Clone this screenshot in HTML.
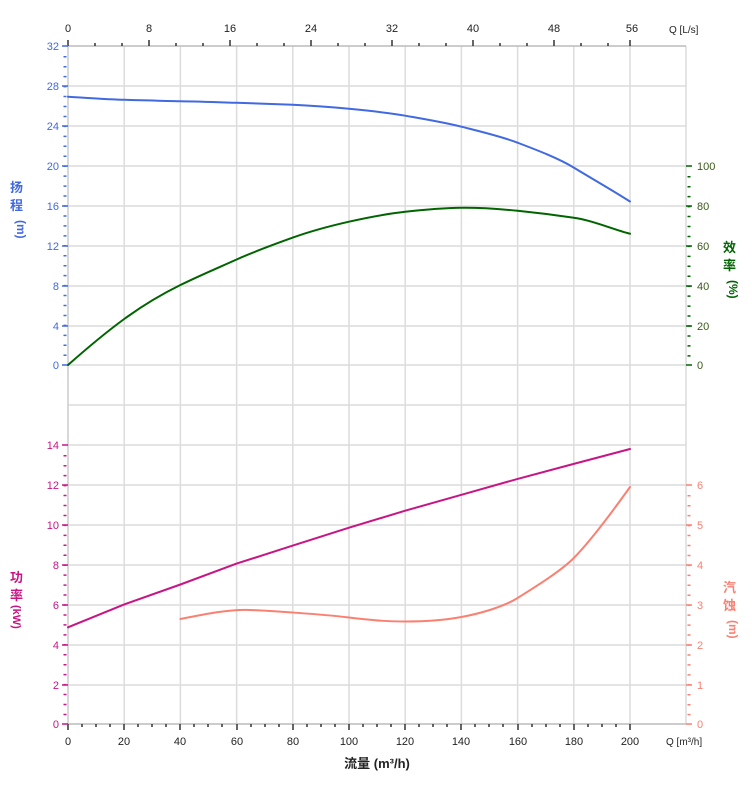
<!DOCTYPE html>
<html><head><meta charset="utf-8"><style>
body{margin:0;background:#fff;}
svg{display:block;font-family:"Liberation Sans","Noto Sans CJK SC",sans-serif;}
</style></head><body>
<svg width="752" height="797" viewBox="0 0 752 797" xmlns="http://www.w3.org/2000/svg">
<g stroke="#dcdcdc" stroke-width="1.5">
<line x1="124.2" y1="46" x2="124.2" y2="724"/><line x1="180.4" y1="46" x2="180.4" y2="724"/>
<line x1="236.6" y1="46" x2="236.6" y2="724"/><line x1="292.8" y1="46" x2="292.8" y2="724"/>
<line x1="349" y1="46" x2="349" y2="724"/><line x1="405.2" y1="46" x2="405.2" y2="724"/>
<line x1="461.4" y1="46" x2="461.4" y2="724"/><line x1="517.6" y1="46" x2="517.6" y2="724"/>
<line x1="573.8" y1="46" x2="573.8" y2="724"/><line x1="630" y1="46" x2="630" y2="724"/>
<line x1="686" y1="46" x2="686" y2="724"/>
<line x1="68" y1="86" x2="686" y2="86"/><line x1="68" y1="126" x2="686" y2="126"/>
<line x1="68" y1="166" x2="686" y2="166"/><line x1="68" y1="206" x2="686" y2="206"/>
<line x1="68" y1="246" x2="686" y2="246"/><line x1="68" y1="286" x2="686" y2="286"/>
<line x1="68" y1="326" x2="686" y2="326"/><line x1="68" y1="365" x2="686" y2="365"/>
<line x1="68" y1="405" x2="686" y2="405"/><line x1="68" y1="445" x2="686" y2="445"/>
<line x1="68" y1="485" x2="686" y2="485"/><line x1="68" y1="525" x2="686" y2="525"/>
<line x1="68" y1="565" x2="686" y2="565"/><line x1="68" y1="605" x2="686" y2="605"/>
<line x1="68" y1="645" x2="686" y2="645"/><line x1="68" y1="685" x2="686" y2="685"/>
</g>
<!-- axes -->
<line x1="68" y1="46" x2="686" y2="46" stroke="#bbb" stroke-width="1.5"/>
<line x1="68" y1="724" x2="686" y2="724" stroke="#bbb" stroke-width="1.5"/>
<line x1="68" y1="46" x2="68" y2="724" stroke="#ccc" stroke-width="1.5"/>
<g stroke="#333" stroke-width="1.5">
<line x1="68" y1="46" x2="68" y2="40"/><line x1="95" y1="46" x2="95" y2="43"/><line x1="122" y1="46" x2="122" y2="43"/>
<line x1="149" y1="46" x2="149" y2="40"/><line x1="176" y1="46" x2="176" y2="43"/><line x1="203" y1="46" x2="203" y2="43"/>
<line x1="230" y1="46" x2="230" y2="40"/><line x1="257" y1="46" x2="257" y2="43"/><line x1="284" y1="46" x2="284" y2="43"/>
<line x1="311" y1="46" x2="311" y2="40"/><line x1="338" y1="46" x2="338" y2="43"/><line x1="365" y1="46" x2="365" y2="43"/>
<line x1="392" y1="46" x2="392" y2="40"/><line x1="419" y1="46" x2="419" y2="43"/><line x1="446" y1="46" x2="446" y2="43"/>
<line x1="473" y1="46" x2="473" y2="40"/><line x1="500" y1="46" x2="500" y2="43"/><line x1="527" y1="46" x2="527" y2="43"/>
<line x1="554" y1="46" x2="554" y2="40"/><line x1="581" y1="46" x2="581" y2="43"/><line x1="608" y1="46" x2="608" y2="43"/>
<line x1="630" y1="46" x2="630" y2="40"/>
</g>
<g stroke="#333" stroke-width="1.5">
<line x1="68" y1="724" x2="68" y2="730"/><line x1="82" y1="724" x2="82" y2="727"/><line x1="96" y1="724" x2="96" y2="727"/><line x1="110" y1="724" x2="110" y2="727"/>
<line x1="124" y1="724" x2="124" y2="730"/><line x1="138" y1="724" x2="138" y2="727"/><line x1="152" y1="724" x2="152" y2="727"/><line x1="166" y1="724" x2="166" y2="727"/>
<line x1="180" y1="724" x2="180" y2="730"/><line x1="194" y1="724" x2="194" y2="727"/><line x1="208" y1="724" x2="208" y2="727"/><line x1="222" y1="724" x2="222" y2="727"/>
<line x1="237" y1="724" x2="237" y2="730"/><line x1="251" y1="724" x2="251" y2="727"/><line x1="265" y1="724" x2="265" y2="727"/><line x1="279" y1="724" x2="279" y2="727"/>
<line x1="293" y1="724" x2="293" y2="730"/><line x1="307" y1="724" x2="307" y2="727"/><line x1="321" y1="724" x2="321" y2="727"/><line x1="335" y1="724" x2="335" y2="727"/>
<line x1="349" y1="724" x2="349" y2="730"/><line x1="363" y1="724" x2="363" y2="727"/><line x1="377" y1="724" x2="377" y2="727"/><line x1="391" y1="724" x2="391" y2="727"/>
<line x1="405" y1="724" x2="405" y2="730"/><line x1="419" y1="724" x2="419" y2="727"/><line x1="433" y1="724" x2="433" y2="727"/><line x1="447" y1="724" x2="447" y2="727"/>
<line x1="461" y1="724" x2="461" y2="730"/><line x1="475" y1="724" x2="475" y2="727"/><line x1="489" y1="724" x2="489" y2="727"/><line x1="503" y1="724" x2="503" y2="727"/>
<line x1="518" y1="724" x2="518" y2="730"/><line x1="532" y1="724" x2="532" y2="727"/><line x1="546" y1="724" x2="546" y2="727"/><line x1="560" y1="724" x2="560" y2="727"/>
<line x1="574" y1="724" x2="574" y2="730"/><line x1="588" y1="724" x2="588" y2="727"/><line x1="602" y1="724" x2="602" y2="727"/><line x1="616" y1="724" x2="616" y2="727"/>
<line x1="630" y1="724" x2="630" y2="730"/>
</g>
<!-- left head ticks -->
<g stroke="#4169e1" stroke-width="1.5">
<line x1="62" y1="46" x2="68" y2="46"/><line x1="62" y1="86" x2="68" y2="86"/><line x1="62" y1="126" x2="68" y2="126"/><line x1="62" y1="166" x2="68" y2="166"/>
<line x1="62" y1="206" x2="68" y2="206"/><line x1="62" y1="246" x2="68" y2="246"/><line x1="62" y1="286" x2="68" y2="286"/><line x1="62" y1="326" x2="68" y2="326"/><line x1="62" y1="365" x2="68" y2="365"/>
</g>
<g stroke="#4169e1" stroke-width="1" stroke-dasharray="3 7">
<line x1="65" y1="56" x2="65" y2="365" stroke-dasharray="1.5 8.45" stroke-width="3"/>
</g>
<g stroke="#c71585" stroke-width="1.5">
<line x1="62" y1="445" x2="68" y2="445"/><line x1="62" y1="485" x2="68" y2="485"/><line x1="62" y1="525" x2="68" y2="525"/><line x1="62" y1="565" x2="68" y2="565"/>
<line x1="62" y1="605" x2="68" y2="605"/><line x1="62" y1="645" x2="68" y2="645"/><line x1="62" y1="685" x2="68" y2="685"/><line x1="62" y1="724" x2="68" y2="724"/>
</g>
<line x1="65" y1="455" x2="65" y2="724" stroke="#c71585" stroke-dasharray="1.5 8.45" stroke-width="3"/>
<g stroke="#006400" stroke-width="1.5">
<line x1="686" y1="166" x2="692" y2="166"/><line x1="686" y1="206" x2="692" y2="206"/><line x1="686" y1="246" x2="692" y2="246"/>
<line x1="686" y1="286" x2="692" y2="286"/><line x1="686" y1="326" x2="692" y2="326"/><line x1="686" y1="365" x2="692" y2="365"/>
</g>
<line x1="689" y1="176" x2="689" y2="365" stroke="#006400" stroke-dasharray="1.5 8.45" stroke-width="3"/>
<g stroke="#fa8072" stroke-width="1.5">
<line x1="686" y1="485" x2="692" y2="485"/><line x1="686" y1="525" x2="692" y2="525"/><line x1="686" y1="565" x2="692" y2="565"/>
<line x1="686" y1="605" x2="692" y2="605"/><line x1="686" y1="645" x2="692" y2="645"/><line x1="686" y1="685" x2="692" y2="685"/><line x1="686" y1="724" x2="692" y2="724"/>
</g>
<line x1="689" y1="495" x2="689" y2="724" stroke="#fa8072" stroke-dasharray="1.5 8.45" stroke-width="3"/>
<!-- curves -->
<g fill="none" stroke-width="2" stroke-linejoin="round" stroke-linecap="round">
<path stroke="#4169e1" d="M68,96.8 C96,98.5 110,99.6 124.2,99.8 S160,101 180.4,101.3 S220,102.3 236.6,102.8 S275,104 292.8,104.8 S330,107 349,108.8 S390,113 405.2,115.7 S445,122.5 461.4,126.7 S500,136 517.6,142.7 S558,158 573.8,167.6 S612,190 630,201.5"/>
<path stroke="#006400" d="M68,365 C85,350 105,333 124.2,319 S160,295 180.4,285 S220,267 236.6,259.5 S275,244 292.8,237.6 S330,226 349,221.7 S390,213.5 405.2,211.8 S445,208 461.4,207.8 S500,209 517.6,210.8 S555,215 573.8,217.7 S612,229 630,233.7"/>
<path stroke="#c71585" d="M68,627.3 L124.2,604.4 L180.4,584.5 L236.6,563.6 L292.8,545.6 L349,527.7 L405.2,510.7 L461.4,494.8 L517.6,478.9 L573.8,463.9 L630,449"/>
<path stroke="#fa8072" d="M180.4,619 C205,614 230,609 250.7,610 S320,614 349,617.5 S390,621.5 405.2,621.5 S440,621 461.4,617 S505,606 517.6,598 S560,572 573.8,558 S610,515 630,487"/>
</g>
<!-- labels -->
<g font-size="11" fill="#4169e1" text-anchor="end">
<text x="59" y="50">32</text><text x="59" y="90">28</text><text x="59" y="130">24</text><text x="59" y="170">20</text>
<text x="59" y="210">16</text><text x="59" y="250">12</text><text x="59" y="290">8</text><text x="59" y="330">4</text><text x="59" y="369">0</text>
</g>
<g font-size="11" fill="#c71585" text-anchor="end">
<text x="59" y="449">14</text><text x="59" y="489">12</text><text x="59" y="529">10</text><text x="59" y="569">8</text>
<text x="59" y="609">6</text><text x="59" y="649">4</text><text x="59" y="689">2</text><text x="59" y="728">0</text>
</g>
<g font-size="11" fill="#3a5a1a">
<text x="697" y="170">100</text><text x="697" y="210">80</text><text x="697" y="250">60</text><text x="697" y="290">40</text><text x="697" y="330">20</text><text x="697" y="369">0</text>
</g>
<g font-size="11" fill="#fa8072">
<text x="697" y="489">6</text><text x="697" y="529">5</text><text x="697" y="569">4</text><text x="697" y="609">3</text><text x="697" y="649">2</text><text x="697" y="689">1</text><text x="697" y="728">0</text>
</g>
<g font-size="11" fill="#222" text-anchor="middle">
<text x="68" y="32">0</text><text x="149" y="32">8</text><text x="230" y="32">16</text><text x="311" y="32">24</text>
<text x="392" y="32">32</text><text x="473" y="32">40</text><text x="554" y="32">48</text><text x="632" y="32">56</text>
<text x="68" y="745">0</text><text x="124" y="745">20</text><text x="180" y="745">40</text><text x="237" y="745">60</text>
<text x="293" y="745">80</text><text x="349" y="745">100</text><text x="405" y="745">120</text><text x="461" y="745">140</text>
<text x="518" y="745">160</text><text x="574" y="745">180</text><text x="630" y="745">200</text>
</g>
<text x="669" y="33" font-size="10" fill="#222">Q [L/s]</text>
<text x="666" y="745" font-size="10" fill="#222">Q [m³/h]</text>
<text x="377" y="768" font-size="13" font-weight="bold" fill="#222" text-anchor="middle">流量 (m³/h)</text>
<g font-size="13" font-weight="bold">
<text x="10" y="192" fill="#4169e1">扬</text><text x="10" y="210" fill="#4169e1">程</text>
<text x="17" y="220" fill="#4169e1" transform="rotate(90 17 220)" font-size="12">(m)</text>
<text x="723" y="252" fill="#006400">效</text><text x="723" y="270" fill="#006400">率</text>
<text x="729" y="280" fill="#006400" transform="rotate(90 729 280)" font-size="12">(%)</text>
<text x="10" y="582" fill="#c71585">功</text><text x="10" y="600" fill="#c71585">率</text>
<text x="13" y="605" fill="#c71585" transform="rotate(90 13 605)" font-size="11">(kW)</text>
<text x="723" y="592" fill="#fa8072">汽</text><text x="723" y="610" fill="#fa8072">蚀</text>
<text x="729" y="620" fill="#fa8072" transform="rotate(90 729 620)" font-size="12">(m)</text>
</g>
</svg>
</body></html>
